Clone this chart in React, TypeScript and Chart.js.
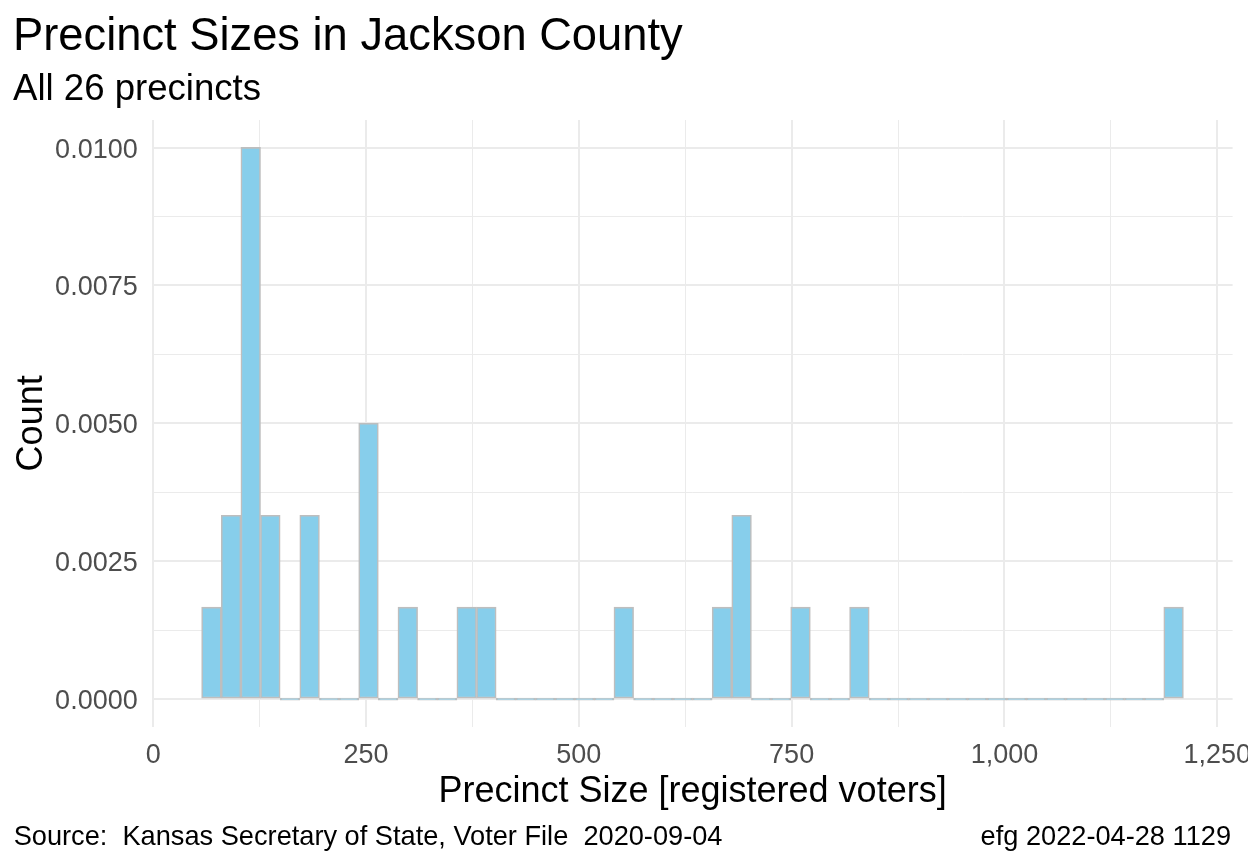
import React, { useEffect, useRef } from "react";
import { Chart, registerables } from "chart.js";

Chart.register(...registerables);

const TITLE = "Precinct Sizes in Jackson County";
const SUBTITLE = "All 26 precincts";
const X_TITLE = "Precinct Size [registered voters]";
const Y_TITLE = "Count";
const CAPTION_LEFT = "Source:  Kansas Secretary of State, Voter File  2020-09-04";
const CAPTION_RIGHT = "efg 2022-04-28 1129";

// Histogram: 50 bins, density = count / (total * binWidth)
const TOTAL_PRECINCTS = 26;
const BIN_START = 56.8;
const BIN_WIDTH = 23.07;
const binCounts = [
  1, 2, 6, 2, 0, 2, 0, 0, 3, 0,
  1, 0, 0, 1, 1, 0, 0, 0, 0, 0,
  0, 1, 0, 0, 0, 0, 1, 2, 0, 0,
  1, 0, 0, 1, 0, 0, 0, 0, 0, 0,
  0, 0, 0, 0, 0, 0, 0, 0, 0, 1,
];

const X_MAJOR_TICKS = [0, 250, 500, 750, 1000, 1250];
const Y_MAJOR_TICKS = [0, 0.0025, 0.005, 0.0075, 0.01];

const FONT = '"Liberation Sans", Arial, sans-serif';

const isMajor = (list: number[], v: number) =>
  list.some((t) => Math.abs(t - v) < 1e-9);

export default function App() {
  const ref = useRef<HTMLCanvasElement>(null);

  useEffect(() => {
    const canvas = ref.current!;
    const data = binCounts.map((c, i) => ({
      x: BIN_START + (i + 0.5) * BIN_WIDTH,
      y: c / (TOTAL_PRECINCTS * BIN_WIDTH),
    }));
    const chart = new Chart(canvas, {
      type: "bar",
      data: {
        datasets: [
          {
            data,
            backgroundColor: "#87CEEB",
            borderColor: "#BEBEBE",
            borderWidth: 1.6,
            borderSkipped: false,
            barPercentage: 1,
            categoryPercentage: 1,
            minBarLength: 2,
          } as any,
        ],
      },
      options: {
        responsive: false,
        animation: false,
        devicePixelRatio: 1,
        layout: { padding: { left: 13, right: 37.4, top: 15, bottom: 53.5 } },
        plugins: {
          legend: { display: false },
          tooltip: { enabled: false },
          title: {
            display: true,
            text: TITLE,
            align: "start",
            color: "#000000",
            font: { family: FONT, size: 45.3, weight: "normal", lineHeight: 1 },
            padding: { top: 0, bottom: 0 },
          },
          subtitle: {
            display: true,
            text: SUBTITLE,
            align: "start",
            color: "#000000",
            font: { family: FONT, size: 36.6, weight: "normal", lineHeight: 1 },
            padding: { top: 11, bottom: 12.1 },
          },
        },
        scales: {
          x: {
            type: "linear",
            min: -0.9,
            max: 1268.1,
            offset: false,
            afterFit: (s: any) => {
              s.height = 83.8;
            },
            border: { display: false },
            grid: {
              offset: false,
              drawTicks: false,
              color: "#EBEBEB",
              lineWidth: (ctx: any) =>
                ctx.tick && isMajor(X_MAJOR_TICKS, ctx.tick.value) ? 2 : 1,
            },
            ticks: {
              stepSize: 125,
              autoSkip: false,
              includeBounds: false,
              maxRotation: 0,
              minRotation: 0,
              padding: 15,
              color: "#4D4D4D",
              font: { family: FONT, size: 27, lineHeight: 1 },
              callback: (v: any) =>
                isMajor(X_MAJOR_TICKS, Number(v))
                  ? Number(v).toLocaleString("en-US")
                  : "",
            },
            title: {
              display: true,
              text: X_TITLE,
              color: "#000000",
              font: { family: FONT, size: 36, lineHeight: 1 },
              padding: { top: 0, bottom: 0 },
            },
          },
          y: {
            type: "linear",
            min: -0.0005,
            max: 0.0105,
            afterFit: (s: any) => {
              s.width = 139.5;
            },
            border: { display: false },
            grid: {
              drawTicks: false,
              color: "#EBEBEB",
              lineWidth: (ctx: any) =>
                ctx.tick && isMajor(Y_MAJOR_TICKS, ctx.tick.value) ? 2 : 1,
            },
            ticks: {
              stepSize: 0.00125,
              autoSkip: false,
              includeBounds: false,
              padding: 14.8,
              labelOffset: 2.5,
              color: "#4D4D4D",
              font: { family: FONT, size: 27, lineHeight: 1 },
              callback: (v: any) =>
                isMajor(Y_MAJOR_TICKS, Number(v)) ? Number(v).toFixed(4) : "",
            },
            title: {
              display: true,
              text: Y_TITLE,
              color: "#000000",
              font: { family: FONT, size: 36, lineHeight: 1 },
              padding: { top: 1, bottom: 0 },
            },
          },
        },
      } as any,
    });
    return () => chart.destroy();
  }, []);

  const captionStyle: React.CSSProperties = {
    position: "absolute",
    top: 822,
    fontFamily: FONT,
    fontSize: "27.2px",
    lineHeight: "27.2px",
    color: "#000000",
    whiteSpace: "pre",
  };

  return (
    <div
      style={{
        position: "fixed",
        left: 0,
        top: 0,
        width: 1248,
        height: 864,
        overflow: "hidden",
        background: "#FFFFFF",
      }}
    >
      <canvas
        ref={ref}
        width={1270}
        height={864}
        style={{ position: "absolute", left: 0, top: 0, width: 1270, height: 864 }}
      />
      <div style={{ ...captionStyle, left: 13.7 }}>{CAPTION_LEFT}</div>
      <div style={{ ...captionStyle, right: 17 }}>{CAPTION_RIGHT}</div>
    </div>
  );
}
